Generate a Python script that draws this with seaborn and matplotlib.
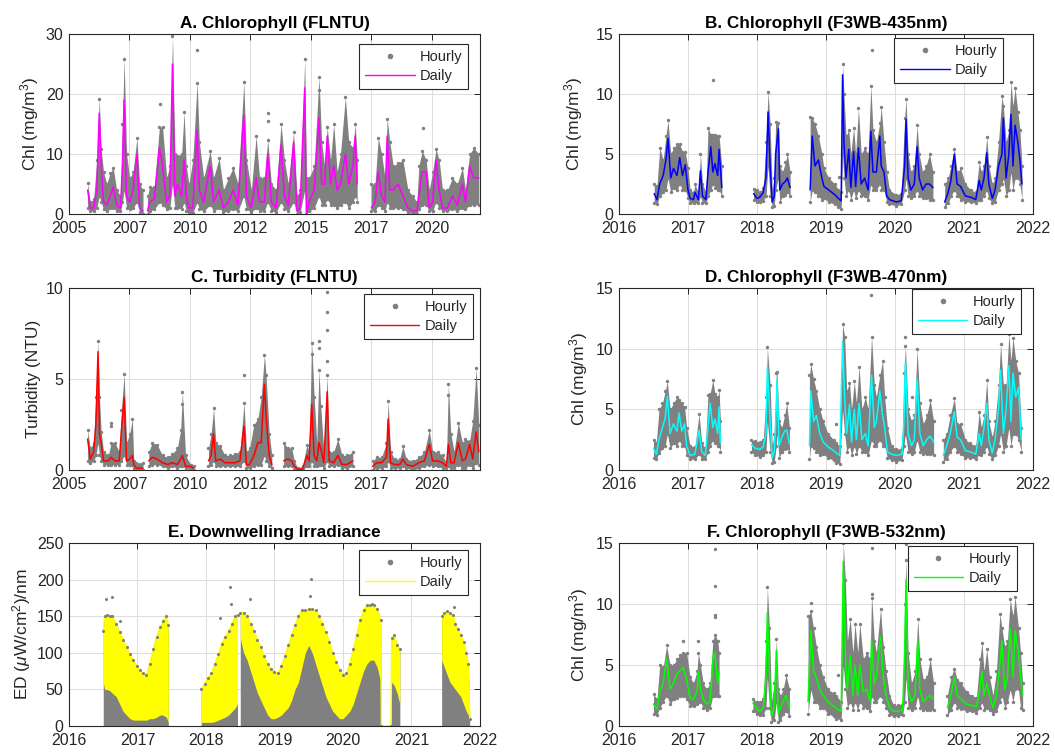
import numpy as np
import pandas as pd
import seaborn as sns
import matplotlib.pyplot as plt
from matplotlib.lines import Line2D

nan = np.nan

# ---------------- A. Chlorophyll (FLNTU) ----------------
a_year = [2005.77, 2005.88, 2006.02, 2006.15, 2006.25, 2006.33, 2006.43, 2006.56, 2006.70, 2006.83,
          2006.97, 2007.13, 2007.21, 2007.28, 2007.38, 2007.51, 2007.65, 2007.81, 2007.92, 2008.06,
          nan, 2008.25, 2008.33, 2008.53, 2008.74, 2008.87, 2009.04, 2009.17, 2009.28, 2009.38,
          2009.48, 2009.66, 2009.76, 2009.85, 2009.96, 2010.12, 2010.30, 2010.39, 2010.57, 2010.84,
          2010.98, 2011.21, 2011.39, 2011.59, 2011.79, 2011.99, 2012.23, 2012.34, 2012.54, 2012.74,
          2012.88, 2013.08, 2013.22, 2013.37, 2013.57, 2013.77, 2013.91, 2014.07, 2014.29, 2014.43,
          2014.56, 2014.75, 2014.82, 2014.93, 2015.14, 2015.34, 2015.45, 2015.57, 2015.68, 2015.82,
          2015.95, 2016.09, 2016.23, 2016.43, 2016.57, 2016.74, 2016.84, 2016.92,
          nan, 2017.50, 2017.66, 2017.79, 2017.93, 2018.07, 2018.16, 2018.27, 2018.41, 2018.61,
          2018.81, 2019.02, 2019.22, 2019.39, 2019.47, 2019.61, 2019.77, 2019.90, 2020.04, 2020.18,
          2020.31, 2020.45, 2020.65, 2020.86, 2021.06, 2021.27, 2021.40, 2021.57, 2021.74, 2021.95]
a_daily = [4.0, 1.0, 1.0, 4.0, 16.8, 8.0, 2.0, 1.5, 3.0, 4.5,
           1.5, 1.0, 8.0, 19.0, 3.0, 2.0, 4.0, 10.0, 1.0, 0.5,
           nan, 0.5, 2.0, 2.5, 11.0, 8.0, 2.0, 3.0, 25.0, 3.0,
           5.0, 3.0, 9.0, 3.0, 1.0, 1.0, 14.0, 4.0, 2.0, 8.0,
           2.0, 4.0, 1.0, 2.0, 4.0, 1.5, 16.5, 3.0, 1.0, 6.0,
           2.0, 2.0, 10.0, 2.0, 1.0, 11.5, 3.0, 1.5, 12.0, 0.5,
           1.0, 21.0, 0.0, 2.0, 4.0, 16.0, 5.0, 5.0, 13.0, 5.0,
           8.0, 4.0, 5.0, 10.0, 5.0, 8.0, 13.0, 5.0,
           nan, 1.0, 2.0, 7.0, 3.0, 2.0, 13.0, 4.0, 4.0, 5.0,
           3.0, 1.0, 0.5, 0.5, 3.0, 7.0, 7.0, 1.0, 2.0, 9.0,
           4.0, 1.0, 1.0, 3.0, 1.5, 5.0, 2.0, 8.0, 6.0, 6.0]
a_hi = [5.2, 2.0, 2.5, 9.0, 19.2, 10.8, 7.0, 5.0, 6.8, 7.7,
        4.0, 3.0, 15.0, 25.9, 10.0, 6.0, 7.0, 12.7, 5.0, 4.0,
        nan, 3.0, 4.5, 4.5, 14.5, 14.5, 6.0, 8.0, 29.7, 10.0,
        9.7, 10.0, 17.0, 8.0, 5.0, 9.0, 21.9, 12.0, 6.0, 10.5,
        6.0, 9.3, 4.0, 6.0, 7.7, 5.0, 22.0, 9.0, 4.0, 13.0,
        6.0, 6.0, 12.4, 5.0, 4.0, 15.0, 9.0, 5.0, 13.6, 3.0,
        4.0, 25.8, 6.0, 6.0, 8.0, 22.8, 12.0, 8.0, 14.5, 9.0,
        15.0, 7.0, 10.0, 19.5, 12.0, 11.0, 15.0, 9.0,
        nan, 5.0, 5.0, 12.7, 10.0, 6.0, 15.9, 12.0, 8.0, 8.5,
        9.0, 4.0, 3.0, 2.0, 8.0, 10.5, 9.0, 4.0, 7.0, 10.8,
        9.0, 4.0, 4.0, 6.0, 5.0, 7.7, 4.0, 10.0, 11.0, 10.0]
a_lo = [1.0, 0.5, 0.5, 1.0, 3.0, 2.0, 0.8, 0.5, 1.0, 1.0,
        0.5, 0.5, 2.0, 4.0, 1.0, 0.8, 1.0, 2.0, 0.4, 0.0,
        nan, 0.0, 0.5, 0.8, 2.0, 1.5, 0.8, 1.0, 5.0, 1.0,
        1.0, 0.8, 2.0, 0.5, 0.0, 0.2, 2.0, 0.8, 0.5, 1.5,
        0.5, 1.0, 0.3, 0.5, 0.8, 0.5, 3.0, 0.8, 0.3, 1.0,
        0.5, 0.5, 2.0, 0.5, 0.3, 2.0, 0.8, 0.5, 2.0, 0.0,
        0.3, 4.0, 0.0, 0.5, 1.0, 3.0, 1.5, 1.5, 2.5, 1.5,
        1.5, 1.0, 1.5, 2.0, 1.0, 2.0, 3.0, 2.0,
        nan, 0.5, 0.5, 1.5, 1.0, 0.5, 2.0, 1.0, 1.0, 1.0,
        0.8, 0.3, 0.0, 0.0, 0.8, 1.5, 1.5, 0.5, 0.5, 2.0,
        1.0, 0.5, 0.5, 0.8, 0.5, 1.0, 0.8, 1.5, 1.5, 1.5]
a_out_x = [2008.78, 2010.30, 2013.24, 2013.24, 2015.34, 2019.63]
a_out_y = [18.3, 27.3, 16.8, 15.5, 20.6, 14.3]

# ---------------- B. Chlorophyll (F3WB-435nm) ----------------
b_year = [2016.51, 2016.55, 2016.59, 2016.64, 2016.68, 2016.71, 2016.75, 2016.79, 2016.84, 2016.88,
          2016.92, 2016.96, 2017.00, 2017.03, 2017.08, 2017.10, 2017.15, 2017.18, 2017.21, 2017.26,
          2017.29, 2017.33, 2017.36, 2017.39, 2017.43, 2017.45, 2017.49,
          nan, 2017.95, 2018.00, 2018.04, 2018.09, 2018.13, 2018.16, 2018.19, 2018.22, 2018.25, 2018.27,
          2018.31, 2018.33, 2018.37, 2018.41, 2018.44, 2018.48,
          nan, 2018.77, 2018.80, 2018.84, 2018.89, 2018.94, 2018.97, 2019.04, 2019.13, 2019.18, 2019.22,
          2019.24, 2019.26, 2019.29, 2019.33, 2019.36, 2019.40, 2019.43, 2019.47, 2019.51, 2019.56,
          2019.61, 2019.65, 2019.68, 2019.73, 2019.78, 2019.80, 2019.84, 2019.88, 2019.92, 2020.02,
          2020.09, 2020.14, 2020.16, 2020.19, 2020.23, 2020.28, 2020.32, 2020.35, 2020.40, 2020.45,
          2020.50, 2020.55,
          nan, 2020.72, 2020.77, 2020.81, 2020.86, 2020.90, 2020.95, 2021.02, 2021.10, 2021.17, 2021.22,
          2021.25, 2021.29, 2021.33, 2021.36, 2021.41, 2021.45, 2021.50, 2021.55, 2021.57, 2021.61,
          2021.65, 2021.68, 2021.71, 2021.74, 2021.78, 2021.81, 2021.84]
b_daily = [1.7, 1.2, 2.5, 3.2, 4.5, 6.3, 3.0, 3.8, 3.2, 4.7,
           3.2, 4.1, 2.0, 1.3, 1.2, 1.8, 1.2, 3.6, 1.5, 1.2,
           3.5, 5.6, 3.5, 4.2, 3.2, 5.4, 2.2,
           nan, 1.7, 1.3, 1.4, 1.8, 3.0, 8.5, 4.0, 1.0, 1.5, 5.0,
           7.1, 2.0, 2.5, 2.7, 3.0, 2.2,
           nan, 2.0, 6.5, 4.0, 4.5, 3.0, 2.3, 2.0, 1.6, 1.3, 1.1,
           11.6, 6.0, 3.0, 5.4, 2.2, 5.2, 2.3, 5.5, 2.5, 3.0,
           2.0, 6.9, 3.5, 3.5, 6.5, 4.0, 3.5, 1.5, 1.2, 1.0,
           1.1, 4.0, 7.9, 3.0, 2.0, 2.5, 5.6, 3.0, 2.0, 2.5,
           2.5, 2.2,
           nan, 1.0, 1.8, 2.8, 5.0, 2.5, 2.3, 1.5, 1.4, 1.2, 2.8,
           2.0, 3.0, 5.1, 2.5, 1.3, 2.0, 4.0, 5.0, 8.0, 3.0,
           5.0, 8.3, 4.0, 7.4, 6.0, 4.5, 2.5]
b_hi = [2.5, 2.3, 5.5, 4.5, 6.5, 7.8, 5.0, 5.5, 5.8, 5.8,
        5.2, 5.2, 3.8, 2.0, 1.8, 2.5, 1.8, 5.0, 2.5, 1.8,
        7.2, 6.6, 6.6, 6.6, 6.5, 6.5, 4.0,
        nan, 2.1, 2.0, 1.8, 2.2, 6.0, 10.2, 7.5, 2.0, 3.0, 7.7,
        7.6, 4.0, 3.5, 4.3, 5.0, 3.5,
        nan, 8.1, 8.0, 7.5, 6.5, 5.0, 3.8, 3.0, 2.5, 2.0, 1.8,
        12.5, 10.0, 6.5, 7.0, 5.0, 7.2, 5.0, 8.8, 5.0, 5.5,
        5.0, 10.7, 7.0, 6.0, 7.6, 8.9, 6.0, 3.5, 2.0, 1.6,
        1.7, 8.0, 9.6, 5.0, 3.5, 4.0, 7.4, 5.0, 3.5, 4.0,
        5.0, 3.5,
        nan, 2.5, 3.0, 4.0, 5.4, 3.5, 3.8, 2.5, 2.0, 1.8, 4.3,
        3.5, 4.0, 6.4, 4.0, 2.5, 3.0, 6.0, 9.8, 9.0, 6.0,
        7.0, 11.0, 9.0, 10.5, 8.5, 7.0, 4.0]
b_lo = [0.9, 0.8, 1.5, 1.8, 2.0, 3.0, 1.8, 2.2, 2.0, 2.5,
        2.0, 2.0, 1.3, 0.9, 0.9, 1.0, 0.9, 1.5, 0.9, 0.9,
        1.5, 2.0, 2.5, 2.2, 2.0, 2.0, 1.5,
        nan, 1.2, 1.0, 1.0, 1.1, 1.5, 4.0, 1.5, 0.6, 0.7, 2.0,
        3.0, 1.0, 1.5, 1.6, 1.8, 1.5,
        nan, 1.0, 2.0, 1.8, 1.5, 1.2, 1.3, 1.0, 0.8, 0.6, 0.4,
        5.0, 3.0, 1.5, 2.0, 1.2, 2.0, 1.3, 2.0, 1.5, 1.5,
        1.2, 2.5, 2.0, 2.0, 2.5, 2.0, 2.0, 1.0, 0.8, 0.7,
        0.8, 2.0, 3.0, 1.5, 1.3, 1.5, 2.0, 1.5, 1.3, 1.3,
        1.2, 1.2,
        nan, 0.6, 0.9, 1.5, 2.0, 1.5, 1.2, 1.0, 1.0, 0.9, 1.2,
        1.2, 1.5, 2.0, 1.3, 0.9, 1.0, 2.0, 2.5, 3.0, 1.5,
        2.0, 3.5, 2.0, 3.0, 3.0, 2.5, 1.2]
b_out_x = [2017.36, 2019.19, 2019.66]
b_out_y = [11.2, 3.1, 13.7]

# ---------------- C. Turbidity (FLNTU) ----------------
c_year = [2005.77, 2005.88, 2006.02, 2006.11, 2006.20, 2006.26, 2006.33, 2006.43, 2006.63, 2006.74,
          2006.90, 2007.08, 2007.17, 2007.28, 2007.38, 2007.51, 2007.62, 2007.68, 2007.78, 2008.06,
          nan, 2008.30, 2008.44, 2008.64, 2008.87, 2009.08, 2009.28, 2009.48, 2009.62, 2009.69,
          2009.82, 2010.03, 2010.16,
          nan, 2010.77, 2010.88, 2010.98, 2011.07, 2011.26, 2011.45, 2011.66, 2011.86, 2012.07, 2012.24,
          2012.34, 2012.47, 2012.65, 2012.81, 2012.95, 2013.08, 2013.15, 2013.28, 2013.39,
          nan, 2013.88, 2014.05, 2014.21, 2014.32, 2014.46, 2014.66, 2014.84, 2014.93, 2015.04, 2015.14,
          2015.25, 2015.34, 2015.41, 2015.54, 2015.68, 2015.76, 2015.95, 2016.12, 2016.29, 2016.50,
          2016.74,
          nan, 2017.56, 2017.72, 2017.93, 2018.13, 2018.20, 2018.30, 2018.47, 2018.68, 2018.81, 2018.95,
          2019.22, 2019.47, 2019.70, 2019.90, 2020.04, 2020.25, 2020.45, 2020.61, 2020.69, 2020.79,
          2020.93, 2021.10, 2021.27, 2021.40, 2021.57, 2021.70, 2021.84, 2021.95]
c_daily = [1.7, 0.6, 1.0, 2.5, 6.5, 2.0, 1.5, 0.5, 0.5, 0.7,
           0.5, 0.5, 2.2, 4.0, 0.5, 0.6, 0.8, 0.3, 0.1, 0.1,
           nan, 0.5, 0.7, 0.6, 0.4, 0.3, 0.4, 0.3, 0.6, 0.8,
           0.2, 0.2, 0.1,
           nan, 0.5, 0.8, 2.0, 0.5, 0.6, 0.4, 0.4, 0.4, 0.5, 2.4,
           0.3, 0.3, 0.8, 1.5, 1.5, 4.7, 3.0, 0.8, 0.3,
           nan, 0.5, 0.6, 0.5, 0.2, 0.05, 0.05, 0.8, 0.5, 3.6, 0.8,
           0.5, 1.5, 1.2, 0.4, 4.3, 0.5, 0.4, 0.8, 0.3, 0.3,
           0.5,
           nan, 0.2, 0.4, 0.4, 0.7, 2.8, 0.4, 0.3, 0.3, 0.6, 0.3,
           0.2, 0.4, 0.5, 1.4, 0.5, 0.5, 0.4, 0.2, 1.4, 0.4,
           0.4, 1.5, 0.5, 0.6, 1.4, 0.6, 2.1, 1.0]
c_hi = [2.2, 1.2, 1.5, 4.0, 7.1, 4.0, 2.1, 1.0, 0.8, 1.5,
        1.5, 1.0, 3.3, 5.3, 1.5, 2.0, 2.8, 0.5, 0.4, 0.4,
        nan, 1.0, 1.5, 1.4, 0.8, 0.7, 0.9, 1.2, 2.2, 4.3,
        0.8, 0.3, 0.2,
        nan, 1.2, 2.0, 3.4, 1.5, 1.3, 0.8, 0.8, 0.9, 1.0, 3.7,
        1.0, 1.2, 2.5, 2.8, 4.0, 6.3, 5.2, 2.0, 0.8,
        nan, 1.5, 1.2, 1.2, 0.5, 0.1, 0.2, 1.4, 1.0, 7.0, 4.0,
        1.5, 5.5, 3.5, 1.0, 5.2, 1.0, 1.0, 1.7, 0.8, 0.8,
        1.0,
        nan, 0.5, 0.7, 0.7, 1.5, 3.8, 1.0, 0.6, 0.6, 1.3, 0.6,
        0.5, 0.7, 1.0, 2.2, 1.0, 1.0, 0.8, 0.4, 4.7, 2.0,
        1.0, 2.6, 1.5, 1.7, 1.6, 2.7, 5.6, 2.5]
c_lo = [0.5, 0.4, 0.5, 0.8, 1.5, 0.8, 0.5, 0.3, 0.3, 0.3,
        0.3, 0.3, 0.5, 0.8, 0.3, 0.3, 0.3, 0.1, 0.0, 0.0,
        nan, 0.2, 0.3, 0.3, 0.2, 0.1, 0.2, 0.1, 0.2, 0.2,
        0.1, 0.0, 0.0,
        nan, 0.2, 0.3, 0.5, 0.2, 0.2, 0.2, 0.2, 0.2, 0.2, 0.5,
        0.1, 0.1, 0.2, 0.3, 0.3, 0.8, 0.5, 0.2, 0.1,
        nan, 0.2, 0.2, 0.2, 0.0, 0.0, 0.0, 0.2, 0.2, 0.5, 0.2,
        0.2, 0.3, 0.3, 0.1, 0.5, 0.2, 0.2, 0.3, 0.1, 0.1,
        0.2,
        nan, 0.0, 0.1, 0.1, 0.2, 0.5, 0.1, 0.1, 0.1, 0.2, 0.1,
        0.0, 0.1, 0.2, 0.3, 0.2, 0.2, 0.1, 0.1, 0.2, 0.1,
        0.1, 0.3, 0.1, 0.1, 0.3, 0.1, 0.4, 0.3]
c_out_x = [2006.74, 2006.74, 2009.69, 2012.24, 2015.04, 2015.34, 2015.34, 2015.68, 2015.68, 2015.68, 2015.68, 2020.69]
c_out_y = [2.6, 2.4, 3.6, 5.2, 6.4, 7.1, 6.7, 9.8, 8.7, 7.7, 6.0, 4.1]

# ---------------- D. Chlorophyll (F3WB-470nm) ----------------
d_year = [2016.50, 2016.54, 2016.58, 2016.63, 2016.67, 2016.70, 2016.74, 2016.79, 2016.84, 2016.87,
          2016.91, 2016.95, 2016.98, 2017.03, 2017.10, 2017.16, 2017.20, 2017.25, 2017.29, 2017.32,
          2017.36, 2017.39, 2017.43, 2017.45, 2017.47,
          nan, 2017.92, 2017.97, 2018.04, 2018.09, 2018.13, 2018.15, 2018.19, 2018.22, 2018.25, 2018.28,
          2018.29, 2018.32, 2018.36, 2018.40, 2018.43, 2018.47,
          nan, 2018.76, 2018.78, 2018.82, 2018.86, 2018.91, 2018.96, 2019.03, 2019.11, 2019.15, 2019.20,
          2019.24, 2019.27, 2019.30, 2019.34, 2019.37, 2019.41, 2019.44, 2019.48, 2019.52, 2019.57,
          2019.61, 2019.66, 2019.70, 2019.73, 2019.78, 2019.82, 2019.85, 2019.89, 2019.95, 2020.02,
          2020.10, 2020.13, 2020.15, 2020.19, 2020.24, 2020.28, 2020.32, 2020.36, 2020.41, 2020.46,
          2020.51, 2020.56,
          nan, 2020.70, 2020.75, 2020.80, 2020.86, 2020.90, 2020.95, 2021.02, 2021.09, 2021.17, 2021.22,
          2021.25, 2021.29, 2021.33, 2021.36, 2021.41, 2021.45, 2021.50, 2021.53, 2021.57, 2021.61,
          2021.65, 2021.68, 2021.71, 2021.75, 2021.79, 2021.83]
d_daily = [1.8, 1.3, 2.5, 3.5, 4.3, 6.1, 3.0, 3.8, 3.2, 4.7,
           3.2, 3.8, 2.0, 1.2, 1.3, 3.3, 1.5, 1.2, 3.5, 5.5,
           3.5, 4.2, 3.0, 5.2, 2.2,
           nan, 2.1, 1.8, 1.7, 1.9, 3.0, 8.5, 4.0, 1.0, 1.5, 5.0,
           7.4, 2.0, 2.7, 3.2, 3.3, 2.2,
           nan, 2.0, 6.5, 4.0, 4.5, 3.0, 2.3, 1.9, 1.6, 1.4, 1.2,
           10.6, 6.0, 3.0, 5.4, 2.3, 5.0, 2.5, 5.5, 2.5, 3.0,
           2.0, 7.8, 3.5, 4.0, 6.5, 4.5, 3.5, 1.5, 1.3, 1.2,
           1.3, 4.0, 8.9, 3.0, 2.0, 2.5, 7.5, 3.0, 2.0, 2.5,
           2.8, 2.3,
           nan, 1.2, 2.0, 3.0, 4.8, 2.7, 2.5, 1.6, 1.5, 1.3, 3.0,
           2.0, 3.5, 5.5, 2.5, 1.4, 2.5, 5.0, 8.2, 3.0, 5.0,
           8.6, 4.0, 8.0, 6.0, 6.8, 2.5]
d_hi = [2.5, 2.2, 5.0, 5.5, 6.5, 7.3, 5.0, 5.5, 6.0, 5.8,
        5.5, 5.2, 3.5, 2.0, 1.9, 4.6, 2.2, 1.8, 6.2, 6.3,
        7.4, 6.3, 6.0, 6.6, 4.0,
        nan, 2.5, 2.4, 2.3, 2.5, 6.0, 10.1, 7.0, 2.0, 3.0, 8.0,
        8.1, 4.0, 3.5, 4.5, 5.5, 3.5,
        nan, 7.8, 8.7, 7.5, 6.5, 5.0, 4.0, 3.0, 2.5, 2.2, 2.0,
        12.0, 11.0, 6.5, 7.2, 5.0, 7.3, 5.5, 8.5, 5.0, 6.0,
        5.0, 11.0, 7.0, 6.0, 7.8, 9.0, 6.0, 3.5, 2.0, 1.7,
        1.8, 8.0, 10.2, 5.0, 4.0, 4.5, 10.0, 5.5, 3.8, 4.5,
        5.8, 4.0,
        nan, 2.5, 3.0, 4.5, 5.9, 3.8, 3.8, 2.5, 2.2, 2.0, 4.8,
        3.5, 4.5, 7.4, 4.0, 2.7, 4.0, 7.0, 10.4, 7.0, 7.0,
        11.2, 9.0, 10.9, 9.0, 8.0, 3.5]
d_lo = [1.0, 0.9, 1.4, 1.8, 2.0, 3.0, 1.8, 2.2, 2.0, 2.5,
        2.0, 2.0, 1.2, 0.9, 0.9, 1.3, 0.9, 0.9, 1.5, 2.0,
        2.5, 2.2, 2.0, 2.0, 1.5,
        nan, 1.5, 1.2, 1.1, 1.2, 1.5, 4.0, 1.5, 0.6, 0.7, 2.0,
        3.0, 1.0, 1.5, 1.7, 1.8, 1.5,
        nan, 0.9, 2.0, 1.8, 1.5, 1.2, 1.3, 1.0, 0.8, 0.6, 0.5,
        5.0, 3.0, 1.5, 2.0, 1.2, 2.0, 1.3, 2.0, 1.5, 1.5,
        1.2, 2.5, 2.0, 2.0, 2.5, 2.0, 2.0, 1.0, 0.8, 0.7,
        0.8, 2.0, 3.0, 1.5, 1.3, 1.5, 2.5, 1.5, 1.3, 1.3,
        1.3, 1.2,
        nan, 0.7, 0.9, 1.5, 2.0, 1.5, 1.3, 1.0, 1.0, 0.9, 1.3,
        1.2, 1.5, 2.0, 1.3, 0.9, 1.2, 2.0, 3.0, 1.5, 2.0,
        3.5, 2.0, 3.0, 3.0, 2.5, 1.5]
d_out_x = [2019.15, 2019.65, 2020.15, 2020.25]
d_out_y = [3.8, 14.4, 11.0, 6.0]

# ---------------- E. Downwelling Irradiance ----------------
e_year = [2016.50, 2016.52, 2016.55, 2016.60, 2016.63, 2016.69, 2016.74, 2016.79, 2016.84, 2016.89,
          2016.94, 2016.99, 2017.03, 2017.08, 2017.13, 2017.18, 2017.23, 2017.28, 2017.33, 2017.37,
          2017.42, 2017.45,
          nan, 2017.93, 2017.98, 2018.03, 2018.08, 2018.13, 2018.18, 2018.23, 2018.28, 2018.33, 2018.38,
          2018.43, 2018.46,
          nan, 2018.50, 2018.55, 2018.60, 2018.65, 2018.70, 2018.75, 2018.80, 2018.85, 2018.90, 2018.95,
          2019.00, 2019.05, 2019.10, 2019.15, 2019.20, 2019.25, 2019.30, 2019.35, 2019.40, 2019.45,
          2019.50, 2019.55, 2019.60, 2019.65, 2019.70, 2019.75, 2019.80, 2019.85, 2019.90, 2019.95,
          2020.00, 2020.05, 2020.10, 2020.15, 2020.20, 2020.25, 2020.30, 2020.35, 2020.40, 2020.45,
          2020.50, 2020.55, 2020.56, 2020.70, 2020.71, 2020.75, 2020.79, 2020.83,
          nan, 2021.44, 2021.48, 2021.52, 2021.56, 2021.60, 2021.64, 2021.68, 2021.72, 2021.76, 2021.80,
          2021.83, 2021.85]
e_hourly_max = [130, 150, 152, 150, 150, 140, 128, 118, 108, 98,
                90, 82, 76, 72, 70, 85, 105, 122, 135, 143,
                150, 138,
                nan, 50, 58, 66, 72, 85, 98, 112, 122, 130, 140,
                150, 152,
                nan, 155, 155, 150, 140, 130, 118, 108, 95, 85, 78,
                74, 72, 82, 95, 110, 125, 138, 150, 158, 158,
                160, 160, 158, 150, 140, 128, 115, 100, 88, 77,
                70, 72, 85, 105, 125, 145, 158, 165, 165, 165,
                160, 145, 0, 0, 120, 125, 110, 105,
                nan, 150, 155, 157, 155, 152, 140, 132, 125, 115, 100,
                85, 10]
e_daily_low = [60, 50, 50, 48, 45, 40, 30, 20, 15, 10,
               8, 8, 8, 8, 8, 10, 10, 12, 15, 15,
               12, 5,
               nan, 5, 5, 5, 5, 6, 8, 10, 12, 15, 20,
               25, 30,
               nan, 120, 100, 90, 75, 60, 45, 35, 25, 15, 10,
               10, 12, 15, 20, 25, 35, 50, 60, 80, 100,
               110, 100, 85, 70, 55, 40, 30, 20, 15, 10,
               10, 15, 20, 30, 45, 60, 75, 85, 90, 90,
               80, 60, 0, 0, 60, 55, 45, 30,
               nan, 90, 80, 70, 60, 55, 50, 45, 40, 30, 20,
               15, 5]
e_out_x = [2016.54, 2016.63, 2016.75, 2018.20, 2018.35, 2018.37, 2018.64, 2019.52, 2019.54, 2020.42, 2021.62]
e_out_y = [173, 176, 143, 148, 190, 167, 173, 178, 201, 167, 162]

# ---------------- F. Chlorophyll (F3WB-532nm) ----------------
f_year = [2016.50, 2016.55, 2016.59, 2016.64, 2016.69, 2016.74, 2016.79, 2016.84, 2016.88, 2016.93,
          2016.98, 2017.03, 2017.08, 2017.13, 2017.15, 2017.18, 2017.22, 2017.27, 2017.32, 2017.36,
          2017.39, 2017.43, 2017.45,
          nan, 2017.94, 2018.00, 2018.04, 2018.09, 2018.13, 2018.15, 2018.18, 2018.21, 2018.25, 2018.28,
          2018.31, 2018.34, 2018.38, 2018.42, 2018.47,
          nan, 2018.74, 2018.78, 2018.82, 2018.86, 2018.91, 2018.96, 2019.03, 2019.11, 2019.15, 2019.22,
          2019.25, 2019.28, 2019.31, 2019.35, 2019.39, 2019.42, 2019.46, 2019.49, 2019.54, 2019.59,
          2019.64, 2019.66, 2019.70, 2019.73, 2019.79, 2019.83, 2019.87, 2019.92, 2019.98, 2020.05,
          2020.11, 2020.14, 2020.16, 2020.19, 2020.24, 2020.29, 2020.33, 2020.36, 2020.41, 2020.46,
          2020.51, 2020.56,
          nan, 2020.76, 2020.81, 2020.86, 2020.90, 2020.96, 2021.04, 2021.11, 2021.18, 2021.23, 2021.26,
          2021.29, 2021.33, 2021.37, 2021.42, 2021.47, 2021.52, 2021.55, 2021.59, 2021.63, 2021.67,
          2021.71, 2021.74, 2021.79, 2021.82, 2021.85]
f_daily = [1.8, 1.4, 2.8, 3.5, 5.5, 3.0, 3.5, 4.3, 4.5, 4.8,
           3.8, 2.3, 2.2, 2.8, 4.5, 3.0, 2.2, 1.8, 2.0, 5.5,
           6.0, 3.5, 4.5,
           nan, 1.9, 1.4, 1.2, 1.5, 4.0, 9.3, 4.5, 0.8, 1.5, 6.2,
           1.0, 1.5, 2.0, 2.5, 1.5,
           nan, 2.0, 7.8, 4.5, 4.0, 3.0, 2.5, 2.0, 1.6, 1.4, 1.2,
           13.5, 6.0, 3.0, 5.8, 2.5, 5.0, 2.5, 5.0, 2.8, 3.0,
           2.0, 7.0, 3.5, 4.0, 7.3, 4.0, 2.5, 1.5, 1.2, 1.2,
           1.3, 6.0, 12.0, 3.0, 2.0, 2.5, 7.0, 3.0, 2.0, 2.3,
           2.5, 2.2,
           nan, 1.5, 2.5, 4.0, 2.5, 2.2, 1.8, 1.7, 1.6, 3.0, 4.5,
           2.5, 3.5, 2.5, 1.5, 2.5, 5.0, 7.0, 3.0, 4.0, 8.0,
           4.0, 7.8, 6.0, 4.0, 2.5]
f_hi = [2.6, 2.2, 5.0, 4.8, 6.6, 5.0, 5.0, 5.5, 5.8, 6.0,
        6.0, 4.0, 3.5, 4.5, 6.0, 5.0, 3.5, 3.0, 3.5, 7.0,
        7.5, 7.0, 6.0,
        nan, 2.2, 2.0, 2.0, 2.2, 7.0, 11.4, 8.0, 2.0, 3.5, 7.1,
        3.0, 2.5, 3.0, 4.2, 3.0,
        nan, 9.0, 9.4, 8.0, 6.5, 5.0, 4.0, 3.0, 2.7, 2.5, 2.0,
        15.0, 12.0, 7.0, 8.8, 6.0, 8.4, 6.0, 8.4, 5.5, 6.0,
        5.5, 10.8, 7.0, 6.0, 9.6, 6.5, 4.5, 2.5, 1.7, 1.7,
        1.9, 10.0, 13.6, 6.0, 3.5, 4.5, 8.8, 5.5, 3.8, 4.0,
        5.5, 3.5,
        nan, 2.5, 4.0, 4.7, 3.8, 3.5, 2.8, 2.5, 2.3, 5.5, 6.8,
        4.5, 6.3, 4.0, 2.5, 4.5, 9.2, 8.0, 6.5, 7.0, 10.4,
        9.0, 10.6, 8.0, 6.0, 3.5]
f_lo = [1.0, 0.9, 1.5, 2.0, 2.5, 1.8, 2.2, 2.3, 2.5, 2.5,
        2.2, 1.6, 1.6, 1.8, 2.0, 2.0, 1.5, 1.3, 1.5, 2.5,
        2.5, 2.5, 2.5,
        nan, 1.2, 1.0, 0.9, 0.9, 1.5, 4.0, 1.5, 0.3, 0.5, 2.0,
        0.3, 0.5, 1.0, 1.2, 0.8,
        nan, 1.0, 3.0, 2.0, 2.0, 1.5, 1.5, 1.0, 0.8, 0.6, 0.5,
        5.0, 3.0, 1.5, 2.0, 1.3, 2.0, 1.3, 2.0, 1.5, 1.5,
        1.2, 2.5, 2.0, 2.0, 2.5, 2.0, 1.5, 0.9, 0.8, 0.8,
        0.9, 2.0, 4.0, 1.5, 1.3, 1.5, 2.5, 1.5, 1.3, 1.3,
        1.3, 1.3,
        nan, 0.9, 1.3, 2.0, 1.5, 1.4, 1.2, 1.2, 1.1, 1.5, 2.0,
        1.3, 1.5, 1.3, 1.0, 1.2, 2.0, 2.5, 1.5, 2.0, 3.0,
        2.0, 3.0, 3.0, 1.5, 1.3]
f_out_x = [2016.93, 2017.15, 2017.39, 2017.39, 2017.39, 2017.39, 2018.78, 2019.17, 2019.66, 2019.66, 2020.16]
f_out_y = [7.0, 7.0, 14.5, 11.5, 9.1, 8.9, 10.1, 4.2, 14.6, 10.5, 14.9]

long_ticks = [2005, 2007.5, 2010, 2012.5, 2015, 2017.5, 2020]
long_labels = ["2005", "2007", "2010", "2012", "2015", "2017", "2020"]
short_ticks = [2016, 2017, 2018, 2019, 2020, 2021, 2022]
short_labels = ["2016", "2017", "2018", "2019", "2020", "2021", "2022"]

GREY = "#808080"
INK = "#262626"

sns.set_theme(style="white")
plt.rcParams["font.family"] = ["Liberation Sans", "DejaVu Sans"]
plt.rcParams["mathtext.fontset"] = "custom"
plt.rcParams["mathtext.rm"] = "Liberation Sans"
plt.rcParams["mathtext.it"] = "Liberation Sans:italic"

W, H = 1055, 752
fig = plt.figure(figsize=(W / 100, H / 100), dpi=100)


def make_axes(left, top, right, bottom):
    return fig.add_axes([left / W, 1 - bottom / H, (right - left) / W, (bottom - top) / H])


def segments(year, *cols):
    df = pd.DataFrame({"year": year})
    for i, c in enumerate(cols):
        df[f"c{i}"] = c
    df["seg"] = df["year"].isna().cumsum()
    return df.dropna(subset=["year"])


def style_axes(ax, title, ylabel, ylim, yticks, xlim, xticks, xlabels, ylab_x):
    ax.set_xlim(xlim)
    ax.set_ylim(ylim)
    ax.set_xticks(xticks)
    ax.set_xticklabels(xlabels)
    ax.set_yticks(yticks)
    ax.grid(True, color="#dcdcdc", lw=0.7)
    ax.set_axisbelow(True)
    ax.tick_params(direction="in", length=4, width=0.7, colors=INK, labelsize=11.5,
                   top=True, right=True)
    ax.tick_params(axis="x", pad=5)
    ax.tick_params(axis="y", pad=4)
    for s in ax.spines.values():
        s.set_color(INK)
        s.set_linewidth(0.8)
        s.set_zorder(10)
    ax.set_title(title, fontsize=12.3, fontweight="bold", color="black", pad=4)
    ax.set_xlabel("")
    ax.set_ylabel(ylabel, fontsize=12.5, color=INK)
    ax.yaxis.set_label_coords(ylab_x, 0.5)


def add_legend(ax, color, anchor):
    handles = [Line2D([0], [0], marker=".", ls="none", color=GREY, markersize=6),
               Line2D([0], [0], color=color, lw=1.0)]
    leg = ax.legend(handles, ["Hourly", "Daily"], loc="upper right", bbox_to_anchor=anchor,
                    borderaxespad=0, fontsize=10.5, handlelength=3.4, handletextpad=0.35,
                    borderpad=0.4, labelspacing=0.35, fancybox=False, framealpha=1,
                    edgecolor=INK)
    leg.get_frame().set_linewidth(0.8)
    leg.set_zorder(20)


def chl_panel(ax, year, daily, hi, lo, out_x, out_y, color):
    df = segments(year, daily, hi, lo)
    for _, g in df.groupby("seg"):
        ax.fill_between(g["year"], g["c2"], g["c1"], color=GREY, lw=0, zorder=2)
    pts = pd.DataFrame({"x": list(df["year"]) * 2 + list(out_x),
                        "y": list(df["c1"]) + list(df["c2"]) + list(out_y)})
    sns.scatterplot(data=pts, x="x", y="y", ax=ax, color=GREY, s=6, linewidth=0,
                    legend=False, zorder=3)
    sns.lineplot(data=df, x="year", y="c0", units="seg", estimator=None, ax=ax,
                 color=color, lw=1.1, legend=False, zorder=4)


# A
ax = make_axes(69, 34, 480, 214)
chl_panel(ax, a_year, a_daily, a_hi, a_lo, a_out_x, a_out_y, "#ff00ff")
style_axes(ax, "A. Chlorophyll (FLNTU)", "Chl (mg/m$^3$)", (0, 30), [0, 10, 20, 30],
           (2005, 2022), long_ticks, long_labels, -0.068)
add_legend(ax, "#ff00ff", (0.971, 0.944))

# B
ax = make_axes(619, 34, 1033, 214)
chl_panel(ax, b_year, b_daily, b_hi, b_lo, b_out_x, b_out_y, "#0000ff")
style_axes(ax, "B. Chlorophyll (F3WB-435nm)", "Chl (mg/m$^3$)", (0, 15), [0, 5, 10, 15],
           (2016, 2022), short_ticks, short_labels, -0.082)
add_legend(ax, "#0000ff", (0.928, 0.978))

# C
ax = make_axes(69, 288, 480, 470)
chl_panel(ax, c_year, c_daily, c_hi, c_lo, c_out_x, c_out_y, "#ff0000")
style_axes(ax, "C. Turbidity (FLNTU)", "Turbidity (NTU)", (0, 10), [0, 5, 10],
           (2005, 2022), long_ticks, long_labels, -0.068)
add_legend(ax, "#ff0000", (0.983, 0.967))

# D
ax = make_axes(619, 288, 1033, 470)
chl_panel(ax, d_year, d_daily, d_hi, d_lo, d_out_x, d_out_y, "#00ffff")
style_axes(ax, "D. Chlorophyll (F3WB-470nm)", "Chl (mg/m$^3$)", (0, 15), [0, 5, 10, 15],
           (2016, 2022), short_ticks, short_labels, -0.07)
add_legend(ax, "#00ffff", (0.971, 0.995))

# E
ax = make_axes(69, 543, 480, 726)
edf = segments(e_year, e_hourly_max, e_daily_low)
for _, g in edf.groupby("seg"):
    ax.fill_between(g["year"], 0, g["c0"], color=GREY, lw=0, zorder=2)
    ax.fill_between(g["year"], g["c1"], g["c0"], color="#ffff00", lw=0, zorder=3)
sns.lineplot(data=edf, x="year", y="c0", units="seg", estimator=None, ax=ax,
             color="#ffff00", lw=1.0, legend=False, zorder=4)
epts = pd.DataFrame({"x": list(edf["year"]) + list(e_out_x),
                     "y": list(edf["c0"]) + list(e_out_y)})
sns.scatterplot(data=epts, x="x", y="y", ax=ax, color=GREY, s=5, linewidth=0,
                legend=False, zorder=5)
style_axes(ax, "E. Downwelling Irradiance", "ED ($\\mu$W/cm$^2$)/nm", (0, 250),
           [0, 50, 100, 150, 200, 250], (2016, 2022), short_ticks, short_labels, -0.088)
add_legend(ax, "#ffff00", (0.971, 0.962))

# F
ax = make_axes(619, 543, 1033, 726)
chl_panel(ax, f_year, f_daily, f_hi, f_lo, f_out_x, f_out_y, "#00ff00")
style_axes(ax, "F. Chlorophyll (F3WB-532nm)", "Chl (mg/m$^3$)", (0, 15), [0, 5, 10, 15],
           (2016, 2022), short_ticks, short_labels, -0.07)
add_legend(ax, "#00ff00", (0.961, 0.984))

fig.savefig("out.png", dpi=100, facecolor="white")
